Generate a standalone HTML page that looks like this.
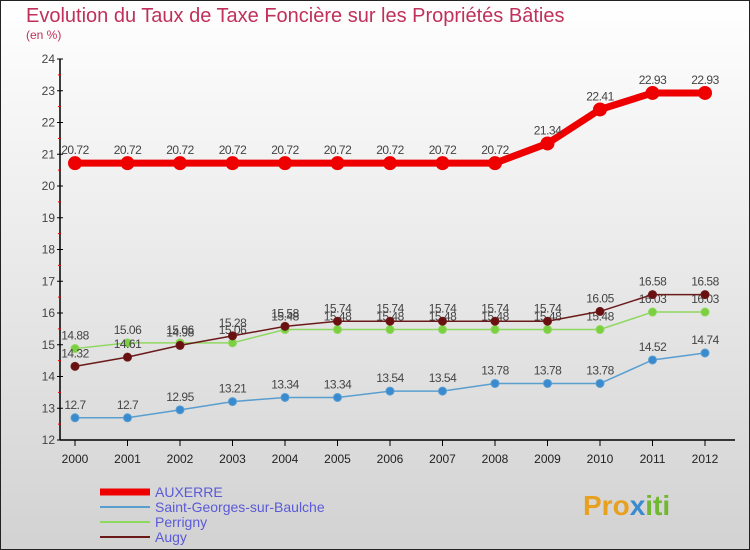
<!DOCTYPE html>
<html><head><meta charset="utf-8"><style>
body{margin:0}
svg{display:block;font-family:"Liberation Sans",sans-serif}
</style></head><body>
<svg id="c" width="750" height="550" viewBox="0 0 750 550">
<defs><linearGradient id="bg" x1="0" y1="0" x2="0" y2="1"><stop offset="0" stop-color="#ffffff"/><stop offset="1" stop-color="#d2d2d2"/></linearGradient></defs>
<rect x="0.5" y="0.5" width="749" height="549" fill="url(#bg)" stroke="#222"/>
<text x="26" y="22" font-size="20" fill="#c0305a">Evolution du Taux de Taxe Foncière sur les Propriétés Bâties</text>
<text x="26" y="39" font-size="12" fill="#c0305a">(en %)</text>
<g id="axes"></g>
<g id="series"></g>
<g id="legend"></g>
<text x="583" y="515" font-size="28" font-weight="bold" fill="#e8a020">Pro<tspan fill="#3a8ad0">x</tspan><tspan fill="#70b830">iti</tspan></text>
</svg>
<script>
const years=[2000,2001,2002,2003,2004,2005,2006,2007,2008,2009,2010,2011,2012];
const yTicks=[12,13,14,15,16,17,18,19,20,21,22,23,24];
const auxerre=[20.72,20.72,20.72,20.72,20.72,20.72,20.72,20.72,20.72,21.34,22.41,22.93,22.93];
const stGeorges=[12.7,12.7,12.95,13.21,13.34,13.34,13.54,13.54,13.78,13.78,13.78,14.52,14.74];
const perrigny=[14.88,15.06,15.06,15.06,15.48,15.48,15.48,15.48,15.48,15.48,15.48,16.03,16.03];
const augy=[14.32,14.61,14.98,15.28,15.58,15.74,15.74,15.74,15.74,15.74,16.05,16.58,16.58];
const NS="http://www.w3.org/2000/svg";
const X=i=>75+i*52.5;
const Y=v=>440-(v-12)*(381/12);
function mk(t,a,p){const e=document.createElementNS(NS,t);for(const k in a)e.setAttribute(k,a[k]);p.appendChild(e);return e;}
const ax=document.getElementById('axes');
let l=mk('line',{x1:60,y1:Y(24),x2:60,y2:440,stroke:'#000','stroke-width':1.5},ax);


l=mk('line',{x1:60,y1:440,x2:735,y2:440,stroke:'#000','stroke-width':1.5},ax);


yTicks.forEach((v,i)=>{
 mk('line',{x1:57,y1:Y(v),x2:63,y2:Y(v),stroke:'#000'},ax);
 if(i<yTicks.length-1)mk('line',{x1:58,y1:Y(v+0.5),x2:61,y2:Y(v+0.5),stroke:'#e00'},ax);
 const t=mk('text',{x:55,y:Y(v)+4,'font-size':12,'text-anchor':'end',fill:'#444'},ax);
 t.textContent=v;
 
 
});
years.forEach((y,i)=>{
 mk('line',{x1:X(i),y1:440,x2:X(i),y2:446,stroke:'#000'},ax);
 const t=mk('text',{x:X(i),y:463,'font-size':12,'text-anchor':'middle',fill:'#222'},ax);
 t.textContent=y;
 
 
});
const sg=document.getElementById('series');
function series(vals,color,fill,w,r,name){
 const g=mk('g',{},sg);
 
 
 const p=mk('polyline',{points:vals.map((v,i)=>X(i)+','+Y(v)).join(' '),fill:'none',stroke:color,'stroke-width':w},g);
 
 
 vals.forEach((v,i)=>{
  const c=mk('circle',{cx:X(i),cy:Y(v),r:r,fill:fill,stroke:color,'stroke-width':1},g);
  
  
  const t=mk('text',{x:X(i),y:Y(v)-9,'font-size':12,'text-anchor':'middle',fill:'#444','letter-spacing':'-0.5'},g);
  t.textContent=v;
  
  
 });
}
series(stGeorges,'#5a9ed0','#3a8ad0',1.5,4,'saint-georges');
series(perrigny,'#8fd860','#7ccf40',1.5,4,'perrigny');
series(augy,'#6b1a1a','#6b1010',1.5,4,'augy');
series(auxerre,'#ee0000','#ee0000',7,6.5,'auxerre');
const lg=document.getElementById('legend');
[['AUXERRE','#ee0000',7],['Saint-Georges-sur-Baulche','#5a9ed0',2],['Perrigny','#8fd860',2],['Augy','#6b1a1a',2]].forEach((e,i)=>{
 const y=492+i*15;
 const g=mk('g',{},lg);
 
 
 mk('line',{x1:100,y1:y,x2:150,y2:y,stroke:e[1],'stroke-width':e[2]},g);
 const t=mk('text',{x:155,y:y+5,'font-size':14,fill:'#5a5ad8'},g);
 t.textContent=e[0];
});
</script>
</body></html>
